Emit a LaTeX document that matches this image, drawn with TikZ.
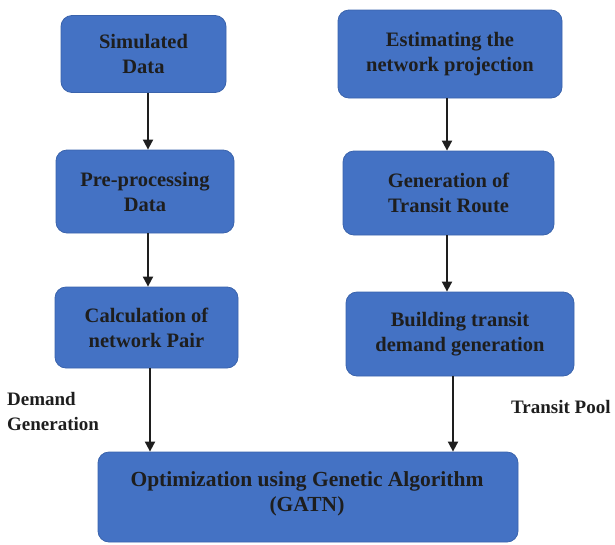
\documentclass[tikz,border=0pt]{standalone}
\usepackage{fontspec}
\setmainfont{Liberation Serif}
\usetikzlibrary{arrows.meta}
\definecolor{boxfill}{HTML}{4472C4}
\definecolor{boxline}{HTML}{3A63AC}
\definecolor{ink}{HTML}{1E1E1E}
\tikzset{
  stepbox/.style={draw=boxline, line width=0.8pt, fill=boxfill, rounded corners=11pt,
    inner sep=0pt, align=center, text=ink,
    font=\fontsize{20.5}{25}\selectfont\bfseries},
  flow/.style={draw=ink, line width=1.8pt, -{Triangle[length=10pt,width=10pt]}},
  sidelabel/.style={text=ink, inner sep=0pt, align=left,
    font=\fontsize{19}{25}\selectfont\bfseries}
}
\begin{document}
\begin{tikzpicture}[x=1pt,y=-1pt]
\useasboundingbox (0,0) rectangle (615,544);
% left column
\node[stepbox, minimum width=165pt, minimum height=77pt] (sim) at (143.5,54) {Simulated\\Data};
\node[stepbox, minimum width=178pt, minimum height=83pt] (pre) at (145,191.5) {Pre-processing\\Data};
\node[stepbox, minimum width=183pt, minimum height=81pt] (calc) at (146.5,327.5) {Calculation of\\network Pair};
% right column
\node[stepbox, minimum width=224pt, minimum height=88pt] (est) at (450,54) {Estimating the\\network projection};
\node[stepbox, minimum width=211pt, minimum height=84pt] (gen) at (448.5,193) {Generation of\\Transit Route};
\node[stepbox, minimum width=228pt, minimum height=84pt] (build) at (460,334) {Building transit\\demand generation};
% bottom stage
\node[stepbox, minimum width=420pt, minimum height=90pt] (opt) at (308,497) {};
\node[stepbox, draw=none, fill=none, font=\fontsize{21.5}{25}\selectfont\bfseries] (opttext) at (307,494) {Optimization using Genetic Algorithm\\(GATN)};
% side labels
\node[sidelabel, anchor=north west] (dem) at (7,392) {Demand\\Generation};
\node[sidelabel, anchor=north west] (pool) at (511,400) {Transit Pool};
% connectors
\coordinate (lx) at (148,0);
\coordinate (lx2) at (150,0);
\coordinate (rx) at (447,0);
\coordinate (rx2) at (453,0);
\draw[flow] (sim.south -| lx) -- (pre.north -| lx);
\draw[flow] (pre.south -| lx) -- (calc.north -| lx);
\draw[flow] (calc.south -| lx2) -- (opt.north -| lx2);
\draw[flow] (est.south -| rx) -- (gen.north -| rx);
\draw[flow] (gen.south -| rx) -- (build.north -| rx);
\draw[flow] (build.south -| rx2) -- (opt.north -| rx2);
\end{tikzpicture}
\end{document}
